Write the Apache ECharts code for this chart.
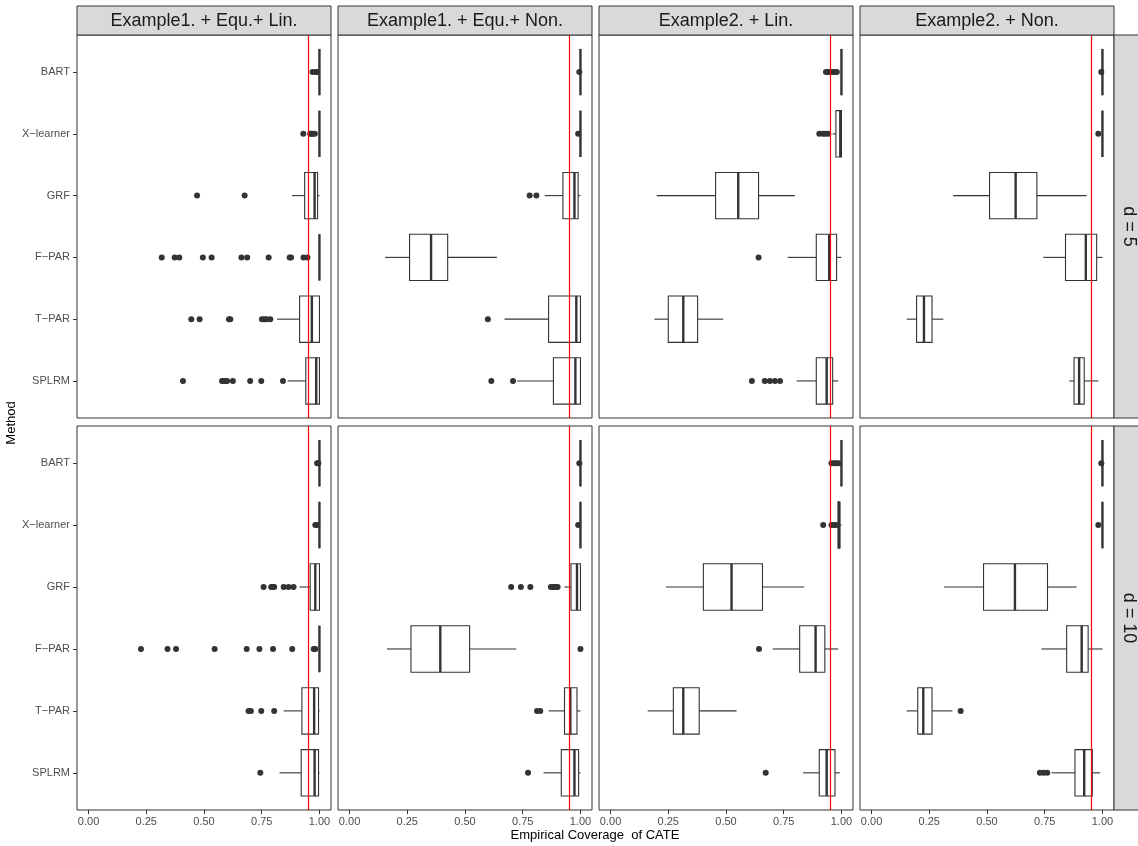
<!DOCTYPE html>
<html>
<head>
<meta charset="utf-8">
<title>Empirical Coverage of CATE</title>
<script src="https://cdn.jsdelivr.net/npm/echarts@6/dist/echarts.min.js"></script>
<style>
  html, body { margin: 0; padding: 0; background: #ffffff; }
  #chart { width: 1138px; height: 846px; }
</style>
</head>
<body>
<div id="chart"></div>
<script>
// ---- Categories and labels ----
const methods = ['BART', 'X\u2212learner', 'GRF', 'F\u2212PAR', 'T\u2212PAR', 'SPLRM'];
const scenarios = ['Example1. + Equ.+ Lin.', 'Example1. + Equ.+ Non.', 'Example2. + Lin.', 'Example2. + Non.'];
const dimLabels = ['d = 5', 'd = 10'];
const xTickValues = [0, 0.25, 0.5, 0.75, 1];
const nominalLevel = 0.95;

// ---- Box statistics per method: [lower whisker, Q1, median, Q3, upper whisker] ----
// d = 5
const statsEx1LinD5 = [
  [1, 1, 1, 1, 1],
  [1, 1, 1, 1, 1],
  [0.881, 0.936, 0.979, 0.992, 1],
  [1, 1, 1, 1, 1],
  [0.816, 0.914, 0.967, 1, 1],
  [0.862, 0.941, 0.986, 1, 1]
];
const statsEx1NonD5 = [
  [1, 1, 1, 1, 1],
  [1, 1, 1, 1, 1],
  [0.845, 0.924, 0.974, 0.990, 1],
  [0.154, 0.260, 0.353, 0.425, 0.638],
  [0.671, 0.862, 0.982, 1, 1],
  [0.725, 0.883, 0.978, 1, 1]
];
const statsEx2LinD5 = [
  [1, 1, 1, 1, 1],
  [0.962, 0.976, 0.995, 1, 1],
  [0.200, 0.455, 0.553, 0.641, 0.798],
  [0.767, 0.891, 0.947, 0.979, 1],
  [0.190, 0.250, 0.315, 0.377, 0.488],
  [0.806, 0.891, 0.936, 0.962, 0.986]
];
const statsEx2NonD5 = [
  [1, 1, 1, 1, 1],
  [1, 1, 1, 1, 1],
  [0.354, 0.511, 0.624, 0.716, 0.931],
  [0.744, 0.840, 0.928, 0.975, 1],
  [0.152, 0.195, 0.227, 0.262, 0.311],
  [0.856, 0.877, 0.899, 0.921, 0.982]
];
// d = 10
const statsEx1LinD10 = [
  [1, 1, 1, 1, 1],
  [1, 1, 1, 1, 1],
  [0.914, 0.960, 0.982, 1, 1],
  [1, 1, 1, 1, 1],
  [0.845, 0.924, 0.977, 0.996, 1],
  [0.827, 0.921, 0.979, 0.996, 1]
];
const statsEx1NonD10 = [
  [1, 1, 1, 1, 1],
  [1, 1, 1, 1, 1],
  [0.931, 0.959, 0.985, 1, 1],
  [0.162, 0.266, 0.393, 0.520, 0.722],
  [0.862, 0.931, 0.956, 0.985, 1],
  [0.840, 0.917, 0.974, 0.992, 1]
];
const statsEx2LinD10 = [
  [1, 1, 1, 1, 1],
  [0.980, 0.985, 0.990, 0.993, 1],
  [0.240, 0.402, 0.524, 0.658, 0.839],
  [0.702, 0.819, 0.888, 0.928, 0.986],
  [0.161, 0.272, 0.315, 0.384, 0.546],
  [0.834, 0.904, 0.936, 0.972, 0.993]
];
const statsEx2NonD10 = [
  [1, 1, 1, 1, 1],
  [1, 1, 1, 1, 1],
  [0.314, 0.485, 0.621, 0.762, 0.888],
  [0.736, 0.845, 0.910, 0.938, 1],
  [0.152, 0.200, 0.224, 0.262, 0.350],
  [0.780, 0.881, 0.921, 0.956, 0.990]
];

// ---- Outlying coverage values per method ----
const outEx1LinD5 = [
  [0.97, 0.985, 0.99],
  [0.93, 0.96, 0.965, 0.97, 0.98],
  [0.47, 0.676],
  [0.317, 0.373, 0.393, 0.495, 0.533, 0.662, 0.687, 0.780, 0.871, 0.877, 0.931, 0.948],
  [0.445, 0.481, 0.608, 0.614, 0.751, 0.762, 0.770, 0.787],
  [0.409, 0.578, 0.585, 0.592, 0.600, 0.625, 0.700, 0.748, 0.842]
];
const outEx1NonD5 = [
  [0.995],
  [0.99],
  [0.780, 0.809],
  [],
  [0.599],
  [0.614, 0.708]
];
const outEx2LinD5 = [
  [0.933, 0.94, 0.95, 0.96, 0.97, 0.98],
  [0.904, 0.92, 0.93, 0.943],
  [],
  [0.641],
  [],
  [0.612, 0.668, 0.690, 0.712, 0.734]
];
const outEx2NonD5 = [
  [0.995],
  [0.982],
  [],
  [],
  [],
  []
];
const outEx1LinD10 = [
  [0.99, 0.995],
  [0.982, 0.99],
  [0.758, 0.791, 0.797, 0.804, 0.845, 0.866, 0.888],
  [0.227, 0.342, 0.379, 0.546, 0.685, 0.740, 0.799, 0.882, 0.975, 0.982],
  [0.693, 0.703, 0.748, 0.804],
  [0.744]
];
const outEx1NonD10 = [
  [0.995],
  [0.99],
  [0.700, 0.742, 0.783, 0.872, 0.879, 0.886, 0.893, 0.901],
  [1],
  [0.812, 0.826],
  [0.773]
];
const outEx2LinD10 = [
  [0.957, 0.967, 0.976, 0.986],
  [0.921, 0.957, 0.967, 0.976],
  [],
  [0.643],
  [],
  [0.672]
];
const outEx2NonD10 = [
  [0.995],
  [0.982],
  [],
  [],
  [0.386],
  [0.729, 0.745, 0.761]
];

// Panels in row-major order (row = d, column = scenario)
const panelStats = [
  [statsEx1LinD5, statsEx1NonD5, statsEx2LinD5, statsEx2NonD5],
  [statsEx1LinD10, statsEx1NonD10, statsEx2LinD10, statsEx2NonD10]
];
const panelOutliers = [
  [outEx1LinD5, outEx1NonD5, outEx2LinD5, outEx2NonD5],
  [outEx1LinD10, outEx1NonD10, outEx2LinD10, outEx2NonD10]
];

// ---- Layout ----
const FONT = "'Liberation Sans', Arial, Helvetica, sans-serif";
const INK = '#333333';
const colLeft = [77, 338, 599, 860];
const panelW = 254;
const rowTop = [35, 426];
const rowH = [383, 384];
const stripTop = 6;
const stripH = 29;
const rightStripX = 1114;
const rightStripW = 32;

const chart = echarts.init(document.getElementById('chart'), null, { renderer: 'canvas' });

function renderBox(params, api) {
  const y = api.value(0);
  const lo = api.coord([api.value(1), y]);
  const q1 = api.coord([api.value(2), y]);
  const med = api.coord([api.value(3), y]);
  const q3 = api.coord([api.value(4), y]);
  const hi = api.coord([api.value(5), y]);
  const h = api.size([0, 0.75])[1];
  const top = q1[1] - h / 2;
  const lineStyle = { stroke: INK, lineWidth: 1.1, fill: null };
  return {
    type: 'group',
    children: [
      { type: 'line', shape: { x1: lo[0], y1: lo[1], x2: q1[0], y2: q1[1] }, style: lineStyle },
      { type: 'line', shape: { x1: q3[0], y1: q3[1], x2: hi[0], y2: hi[1] }, style: lineStyle },
      { type: 'rect', shape: { x: q1[0], y: top, width: q3[0] - q1[0], height: h },
        style: { fill: '#ffffff', stroke: INK, lineWidth: 1.1 } },
      { type: 'line', shape: { x1: med[0], y1: top, x2: med[0], y2: top + h },
        style: { stroke: INK, lineWidth: 2.4 } }
    ]
  };
}

const grids = [], xAxes = [], yAxes = [], series = [], graphics = [];
const methodTicks = methods.map((m, i) => i + 1);

for (let r = 0; r < 2; r++) {
  for (let c = 0; c < 4; c++) {
    const idx = grids.length;
    grids.push({
      left: colLeft[c], top: rowTop[r], width: panelW, height: rowH[r],
      show: true, backgroundColor: '#ffffff', borderColor: INK, borderWidth: 1
    });
    const bottomRow = r === 1;
    const leftCol = c === 0;
    xAxes.push({
      gridIndex: idx, type: 'value', min: -0.05, max: 1.05, position: 'bottom',
      splitLine: { show: false }, axisLine: { show: false, onZero: false },
      axisTick: { show: bottomRow, length: 4, customValues: xTickValues, lineStyle: { color: INK, width: 1 } },
      axisLabel: {
        show: bottomRow, customValues: xTickValues, margin: 6,
        formatter: v => Number(v).toFixed(2),
        color: '#4D4D4D', fontSize: 11, fontFamily: FONT
      }
    });
    yAxes.push({
      gridIndex: idx, type: 'value', min: 0.4, max: 6.6, inverse: true, position: 'left',
      splitLine: { show: false }, axisLine: { show: false, onZero: false },
      axisTick: { show: leftCol, length: 4, customValues: methodTicks, lineStyle: { color: INK, width: 1 } },
      axisLabel: {
        show: leftCol, customValues: methodTicks, margin: 7,
        formatter: v => methods[Math.round(v) - 1] || '',
        color: '#4D4D4D', fontSize: 11, fontFamily: FONT
      }
    });

    const boxData = panelStats[r][c].map((s, i) => [i + 1].concat(s));
    series.push({
      type: 'custom', xAxisIndex: idx, yAxisIndex: idx, z: 2,
      renderItem: renderBox,
      encode: { x: [1, 2, 3, 4, 5], y: 0 },
      data: boxData
    });

    const pts = [];
    panelOutliers[r][c].forEach((vals, i) => vals.forEach(v => pts.push([v, i + 1])));
    series.push({
      type: 'scatter', xAxisIndex: idx, yAxisIndex: idx, z: 3,
      symbol: 'circle', symbolSize: 6,
      itemStyle: { color: INK, opacity: 1 },
      data: pts,
      markLine: {
        silent: true, symbol: ['none', 'none'], label: { show: false },
        lineStyle: { color: '#FF0000', width: 1.2, type: 'solid' },
        emphasis: { disabled: true },
        data: [{ xAxis: nominalLevel }]
      }
    });
  }
}

// Column strips (scenario names)
scenarios.forEach((name, c) => {
  graphics.push({
    type: 'rect', shape: { x: colLeft[c], y: stripTop, width: panelW, height: stripH },
    style: { fill: '#D9D9D9', stroke: INK, lineWidth: 1 }, z: 10
  });
  graphics.push({
    type: 'text', x: colLeft[c] + panelW / 2, y: stripTop + stripH / 2 + 1, z: 11,
    style: { text: name, align: 'center', verticalAlign: 'middle', fill: '#1A1A1A', fontSize: 18, fontFamily: FONT }
  });
});

// Row strips (dimension)
dimLabels.forEach((name, r) => {
  graphics.push({
    type: 'rect', shape: { x: rightStripX, y: rowTop[r], width: rightStripW, height: rowH[r] },
    style: { fill: '#D9D9D9', stroke: INK, lineWidth: 1 }, z: 10
  });
  graphics.push({
    type: 'text', x: rightStripX + 15, y: rowTop[r] + rowH[r] / 2, rotation: -Math.PI / 2, z: 11,
    style: { text: name, align: 'center', verticalAlign: 'middle', fill: '#1A1A1A', fontSize: 18, fontFamily: FONT }
  });
});

// Axis titles
graphics.push({
  type: 'text', x: 595, y: 835, z: 11,
  style: { text: 'Empirical Coverage  of CATE', align: 'center', verticalAlign: 'middle', fill: '#000000', fontSize: 13, fontFamily: FONT }
});
graphics.push({
  type: 'text', x: 11, y: 423, rotation: Math.PI / 2, z: 11,
  style: { text: 'Method', align: 'center', verticalAlign: 'middle', fill: '#000000', fontSize: 13, fontFamily: FONT }
});

chart.setOption({
  animation: false,
  backgroundColor: '#ffffff',
  grid: grids,
  xAxis: xAxes,
  yAxis: yAxes,
  series: series,
  graphic: graphics
});
</script>
</body>
</html>
